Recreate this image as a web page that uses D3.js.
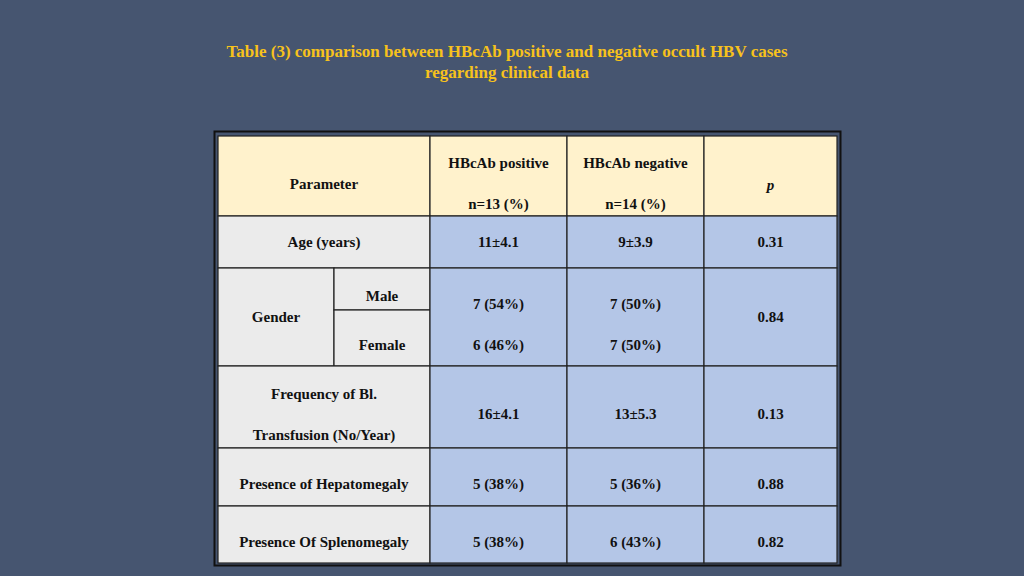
<!DOCTYPE html>
<html><head><meta charset="utf-8">
<script src="https://cdn.jsdelivr.net/npm/d3@7"></script>
<style>body{margin:0;background:#465570}text{font-family:"Liberation Serif",serif;font-weight:bold}</style>
</head><body><svg id="c" width="1024" height="576"></svg>
<script>
// table content
var title = ["Table (3) comparison between HBcAb positive and negative occult HBV cases", "regarding clinical data"];
var groups = ["HBcAb positive", "HBcAb negative"];
var groupN = ["n=13 (%)", "n=14 (%)"];
var params = ["Age (years)", "Gender", "Frequency of Bl.|Transfusion (No/Year)", "Presence of Hepatomegaly", "Presence Of Splenomegaly"];
var positive = ["11±4.1", "7 (54%)|6 (46%)", "16±4.1", "5 (38%)", "5 (38%)"];
var negative = ["9±3.9", "7 (50%)|7 (50%)", "13±5.3", "5 (36%)", "6 (43%)"];
var pvals = ["0.31", "0.84", "0.13", "0.88", "0.82"];
var genderSub = ["Male", "Female"];

var svg = d3.select("#c");
var colX = [218, 334, 430, 567, 704, 837];   // column edges
var rowY = [136, 216, 268, 366, 448, 506, 563]; // row edges
var genderMid = 310;
var BLUE = "#b4c6e7", GREY = "#ebebeb", CREAM = "#fff2cc";

svg.selectAll("text.title").data(title).join("text").attr("class", "title")
  .attr("x", 507).attr("y", (d, i) => 57 + i * 21).attr("text-anchor", "middle")
  .attr("fill", "#f7c21c").attr("font-size", 17).text(d => d);

// outer double border
svg.append("rect").attr("x", 214.5).attr("y", 131.5).attr("width", 626).attr("height", 434)
  .attr("fill", "none").attr("stroke", "#111").attr("stroke-width", 2);

function cell(x0, x1, y0, y1, fill) {
  svg.append("rect").attr("x", x0).attr("y", y0).attr("width", x1 - x0).attr("height", y1 - y0)
    .attr("fill", fill).attr("stroke", "#222").attr("stroke-width", 1.2);
}
function txt(x, y, s, italic) {
  svg.append("text").attr("x", x).attr("y", y).attr("text-anchor", "middle")
    .attr("font-size", 15).attr("fill", "#111").attr("font-style", italic ? "italic" : null).text(s);
}
var mid = i => (colX[i] + colX[i + 1]) / 2;

// header
cell(colX[0], colX[2], rowY[0], rowY[1], CREAM);
cell(colX[2], colX[3], rowY[0], rowY[1], CREAM);
cell(colX[3], colX[4], rowY[0], rowY[1], CREAM);
cell(colX[4], colX[5], rowY[0], rowY[1], CREAM);
txt((colX[0] + colX[2]) / 2, 189, "Parameter");
groups.forEach((g, i) => { txt(mid(i + 2), 168, g); txt(mid(i + 2), 209, groupN[i]); });
txt(mid(4), 190, "p", true);

params.forEach((p, r) => {
  var y0 = rowY[r + 1], y1 = rowY[r + 2], ym = (y0 + y1) / 2 + 5;
  if (p === "Gender") {
    cell(colX[0], colX[1], y0, y1, GREY);
    cell(colX[1], colX[2], y0, genderMid, GREY);
    cell(colX[1], colX[2], genderMid, y1, GREY);
    txt(mid(0), ym, p);
    txt(mid(1), 301, genderSub[0]); txt(mid(1), 350, genderSub[1]);
  } else {
    cell(colX[0], colX[2], y0, y1, GREY);
    var parts = p.split("|");
    if (parts.length > 1) { txt((colX[0] + colX[2]) / 2, 399, parts[0]); txt((colX[0] + colX[2]) / 2, 440, parts[1]); }
    else txt((colX[0] + colX[2]) / 2, r === 4 ? 547 : (r === 3 ? 489 : ym), p);
  }
  [positive[r], negative[r], pvals[r]].forEach((v, j) => {
    cell(colX[j + 2], colX[j + 3], y0, y1, BLUE);
    var parts = v.split("|");
    var yy = r === 4 ? 547 : (r === 3 ? 489 : (r === 2 ? 419 : ym));
    if (parts.length > 1) { txt(mid(j + 2), 309, parts[0]); txt(mid(j + 2), 350, parts[1]); }
    else txt(mid(j + 2), yy, v);
  });
});
</script></body></html>
